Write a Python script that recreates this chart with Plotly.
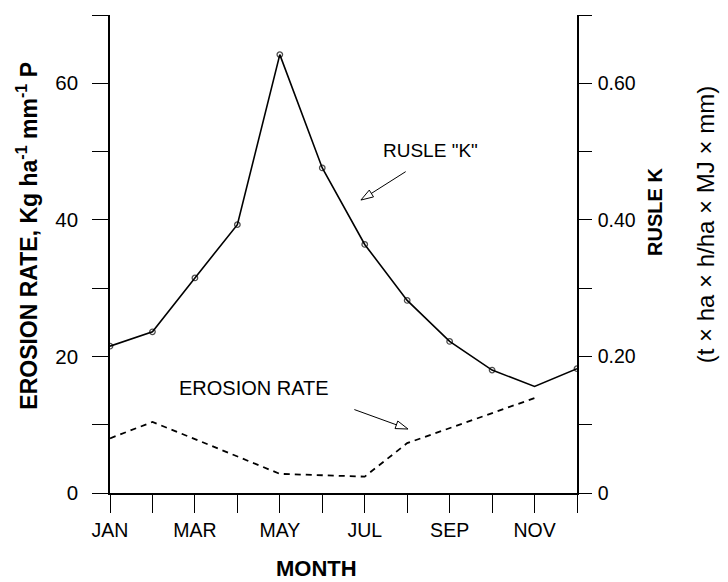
import plotly.graph_objects as go

months = ["JAN", "FEB", "MAR", "APR", "MAY", "JUN", "JUL", "AUG", "SEP", "OCT", "NOV", "DEC"]
month_num = list(range(1, 13))
# RUSLE K (right axis)
rusle_k = [0.215, 0.236, 0.315, 0.393, 0.642, 0.476, 0.364, 0.282, 0.222, 0.180, 0.156, 0.182]
# Erosion rate, Kg ha-1 mm-1 P (left axis)
erosion_rate = [8.0, 10.4, 7.9, 5.4, 2.8, 2.6, 2.4, 7.3, 9.5, 11.7, 13.9, None]

left_ticks = [0, 10, 20, 30, 40, 50, 60, 70]
left_text = ["0", "", "20", "", "40", "", "60", ""]
right_ticks = [0, 0.1, 0.2, 0.3, 0.4, 0.5, 0.6, 0.7]
right_text = ["0", "", "0.20", "", "0.40", "", "0.60", ""]
x_text = [m if i % 2 == 0 else "" for i, m in enumerate(months)]

FONT = "Liberation Sans, Arial, sans-serif"
W, H = 728, 582
L, R, T, B = 110, 151, 15, 89

fig = go.Figure()

fig.add_trace(go.Scatter(
    x=month_num, y=erosion_rate, mode="lines", yaxis="y",
    line=dict(color="black", width=1.8, dash="6px,5px"),
    connectgaps=False, showlegend=False, hoverinfo="skip"))

msize = [0 if m == "NOV" else 5.5 for m in months]
fig.add_trace(go.Scatter(
    x=month_num, y=rusle_k, mode="lines+markers", yaxis="y2",
    line=dict(color="black", width=1.6),
    marker=dict(symbol="circle-open", size=msize, color="black", line=dict(width=1.3)),
    showlegend=False, hoverinfo="skip"))

# arrow heads (open) for the two labels
heads_x = [6.91, 8.02]
heads_y = [42.9, 9.37]
heads_angle = [-122, 110]
fig.add_trace(go.Scatter(
    x=heads_x, y=heads_y, mode="markers", yaxis="y",
    marker=dict(symbol="arrow-open", size=13, angle=heads_angle, color="black",
                line=dict(width=1, color="black")),
    showlegend=False, hoverinfo="skip"))

fig.update_layout(
    width=W, height=H,
    margin=dict(l=L, r=R, t=T, b=B),
    paper_bgcolor="white", plot_bgcolor="white",
    font=dict(family=FONT, color="black", size=20),
    xaxis=dict(range=[1, 12], tickvals=month_num, ticktext=x_text,
               showline=True, linecolor="black", linewidth=1.5,
               ticks="outside", ticklen=18, tickwidth=1.2, tickcolor="black",
               ticklabelstandoff=1, showgrid=False, zeroline=False,
               tickfont=dict(size=19.5)),
    yaxis=dict(range=[0, 70], tickvals=left_ticks, ticktext=left_text,
               showline=True, linecolor="black", linewidth=1.5,
               ticks="outside", ticklen=16, tickwidth=1.2, tickcolor="black",
               ticklabelstandoff=10, showgrid=False, zeroline=False,
               tickfont=dict(size=20.5)),
    yaxis2=dict(range=[0, 0.7], tickvals=right_ticks, ticktext=right_text,
                overlaying="y", side="right",
                showline=True, linecolor="black", linewidth=1.5,
                ticks="outside", ticklen=13, tickwidth=1.2, tickcolor="black",
                ticklabelstandoff=2, showgrid=False, zeroline=False,
                tickfont=dict(size=19.5)),
)

ann = []
# axis titles
ann.append(dict(text="<b>EROSION RATE, Kg ha<sup>-1</sup> mm<sup>-1</sup> P</b>",
                xref="paper", yref="paper", x=-0.178, y=0.538, textangle=-90,
                showarrow=False, font=dict(size=23), xanchor="center", yanchor="middle"))
ann.append(dict(text="<b>RUSLE K</b>", xref="paper", yref="paper", x=1.167, y=0.588,
                textangle=-90, showarrow=False, font=dict(size=20),
                xanchor="center", yanchor="middle"))
ann.append(dict(text="(t × ha × h/ha × MJ × mm)", xref="paper", yref="paper",
                x=1.274, y=0.562, textangle=-90, showarrow=False, font=dict(size=24),
                xanchor="center", yanchor="middle"))
ann.append(dict(text="<b>MONTH</b>", xref="paper", yref="paper", x=0.443, y=-0.157,
                showarrow=False, font=dict(size=22), xanchor="center", yanchor="middle"))
# in-plot labels
ann.append(dict(text='RUSLE "K"', xref="x", yref="y", x=8.54, y=50.2,
                showarrow=False, font=dict(size=19), xanchor="center", yanchor="middle"))
ann.append(dict(text="EROSION RATE", xref="x", yref="y", x=4.39, y=15.4,
                showarrow=False, font=dict(size=20), xanchor="center", yanchor="middle"))
# arrow shafts
ann.append(dict(text="", xref="x", yref="y", x=6.91, y=42.9, axref="x", ayref="y",
                ax=8.00, ay=47.2, showarrow=True, arrowhead=0, arrowwidth=1,
                arrowcolor="black", standoff=12))
ann.append(dict(text="", xref="x", yref="y", x=8.02, y=9.37, axref="x", ayref="y",
                ax=6.72, ay=12.3, showarrow=True, arrowhead=0, arrowwidth=1,
                arrowcolor="black", standoff=12))
fig.update_layout(annotations=ann)

fig.write_html("out.html", config={"displayModeBar": False},
               post_script="document.body.style.margin='0px';")
